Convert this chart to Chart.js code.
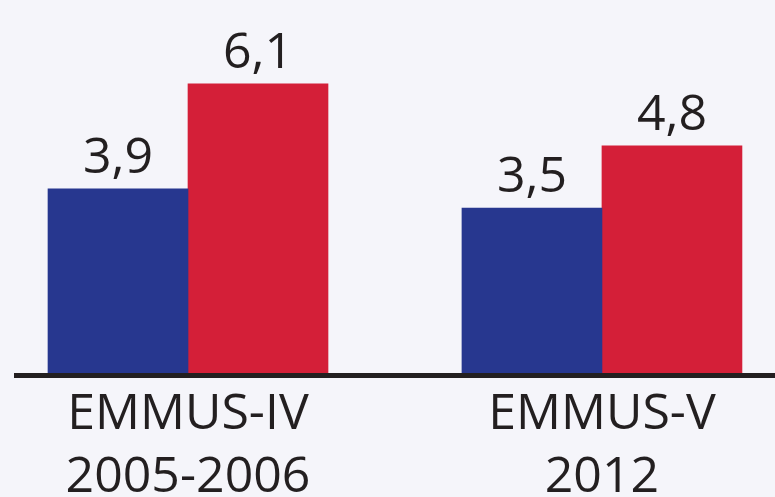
<!DOCTYPE html>
<html>
<head>
<meta charset="utf-8">
<script src="https://cdn.jsdelivr.net/npm/chart.js@4.4.1/dist/chart.umd.min.js"></script>
<style>
    html, body { margin: 0; padding: 0; background: #f5f5fa; }
    #wrap { width: 775px; height: 497px; position: relative; }
</style>
</head>
<body>
<div id="wrap"><canvas id="chart"></canvas></div>
<script>
    // survey rounds (two-line labels under the axis)
    const categories = [
        ["EMMUS-IV", "2005-2006"],
        ["EMMUS-V", "2012"]
    ];
    const seriesBlue = [3.9, 3.5];
    const seriesRed = [6.1, 4.8];

    const textColor = "#231f20";
    const fontFamily = "'Open Sans', sans-serif";

    const toPoints = (values) => values.map((v, i) => ({ x: i, y: v }));
    const formatValue = (v) => v.toFixed(1).replace(".", ",");

    const valueLabels = {
        id: "valueLabels",
        afterDatasetsDraw(chart) {
            const { ctx } = chart;
            ctx.save();
            ctx.font = `50px ${fontFamily}`;
            ctx.fillStyle = textColor;
            ctx.textAlign = "center";
            ctx.textBaseline = "alphabetic";
            chart.data.datasets.forEach((ds, di) => {
                const meta = chart.getDatasetMeta(di);
                meta.data.forEach((bar, i) => {
                    ctx.fillText(formatValue(ds.data[i].y), bar.x, bar.y - 16);
                });
            });
            ctx.restore();
        }
    };

    new Chart(document.getElementById("chart"), {
        type: "bar",
        data: {
            datasets: [
                { data: toPoints(seriesBlue), backgroundColor: "#27378f", barThickness: 140 },
                { data: toPoints(seriesRed), backgroundColor: "#d41f38", barThickness: 140 }
            ]
        },
        options: {
            responsive: true,
            maintainAspectRatio: false,
            animation: false,
            layout: { padding: { left: 16, right: 0, top: 0, bottom: 0 } },
            plugins: { legend: { display: false }, tooltip: { enabled: false } },
            scales: {
                x: {
                    type: "linear",
                    offset: false,
                    min: -0.4155,
                    max: 1.418,
                    grid: { display: false, drawTicks: false, offset: false },
                    border: { display: true, color: textColor, width: 5, z: 1 },
                    ticks: {
                        stepSize: 1,
                        includeBounds: false,
                        autoSkip: false,
                        maxRotation: 0,
                        padding: 8,
                        color: textColor,
                        font: { size: 50, family: fontFamily, lineHeight: 1.26 },
                        callback: (val) => categories[val] || ""
                    },
                    afterFit: (scale) => { scale.height = 121.5; }
                },
                y: {
                    display: false,
                    min: 0,
                    max: 7.85
                }
            }
        },
        plugins: [valueLabels]
    });
</script>
</body>
</html>
